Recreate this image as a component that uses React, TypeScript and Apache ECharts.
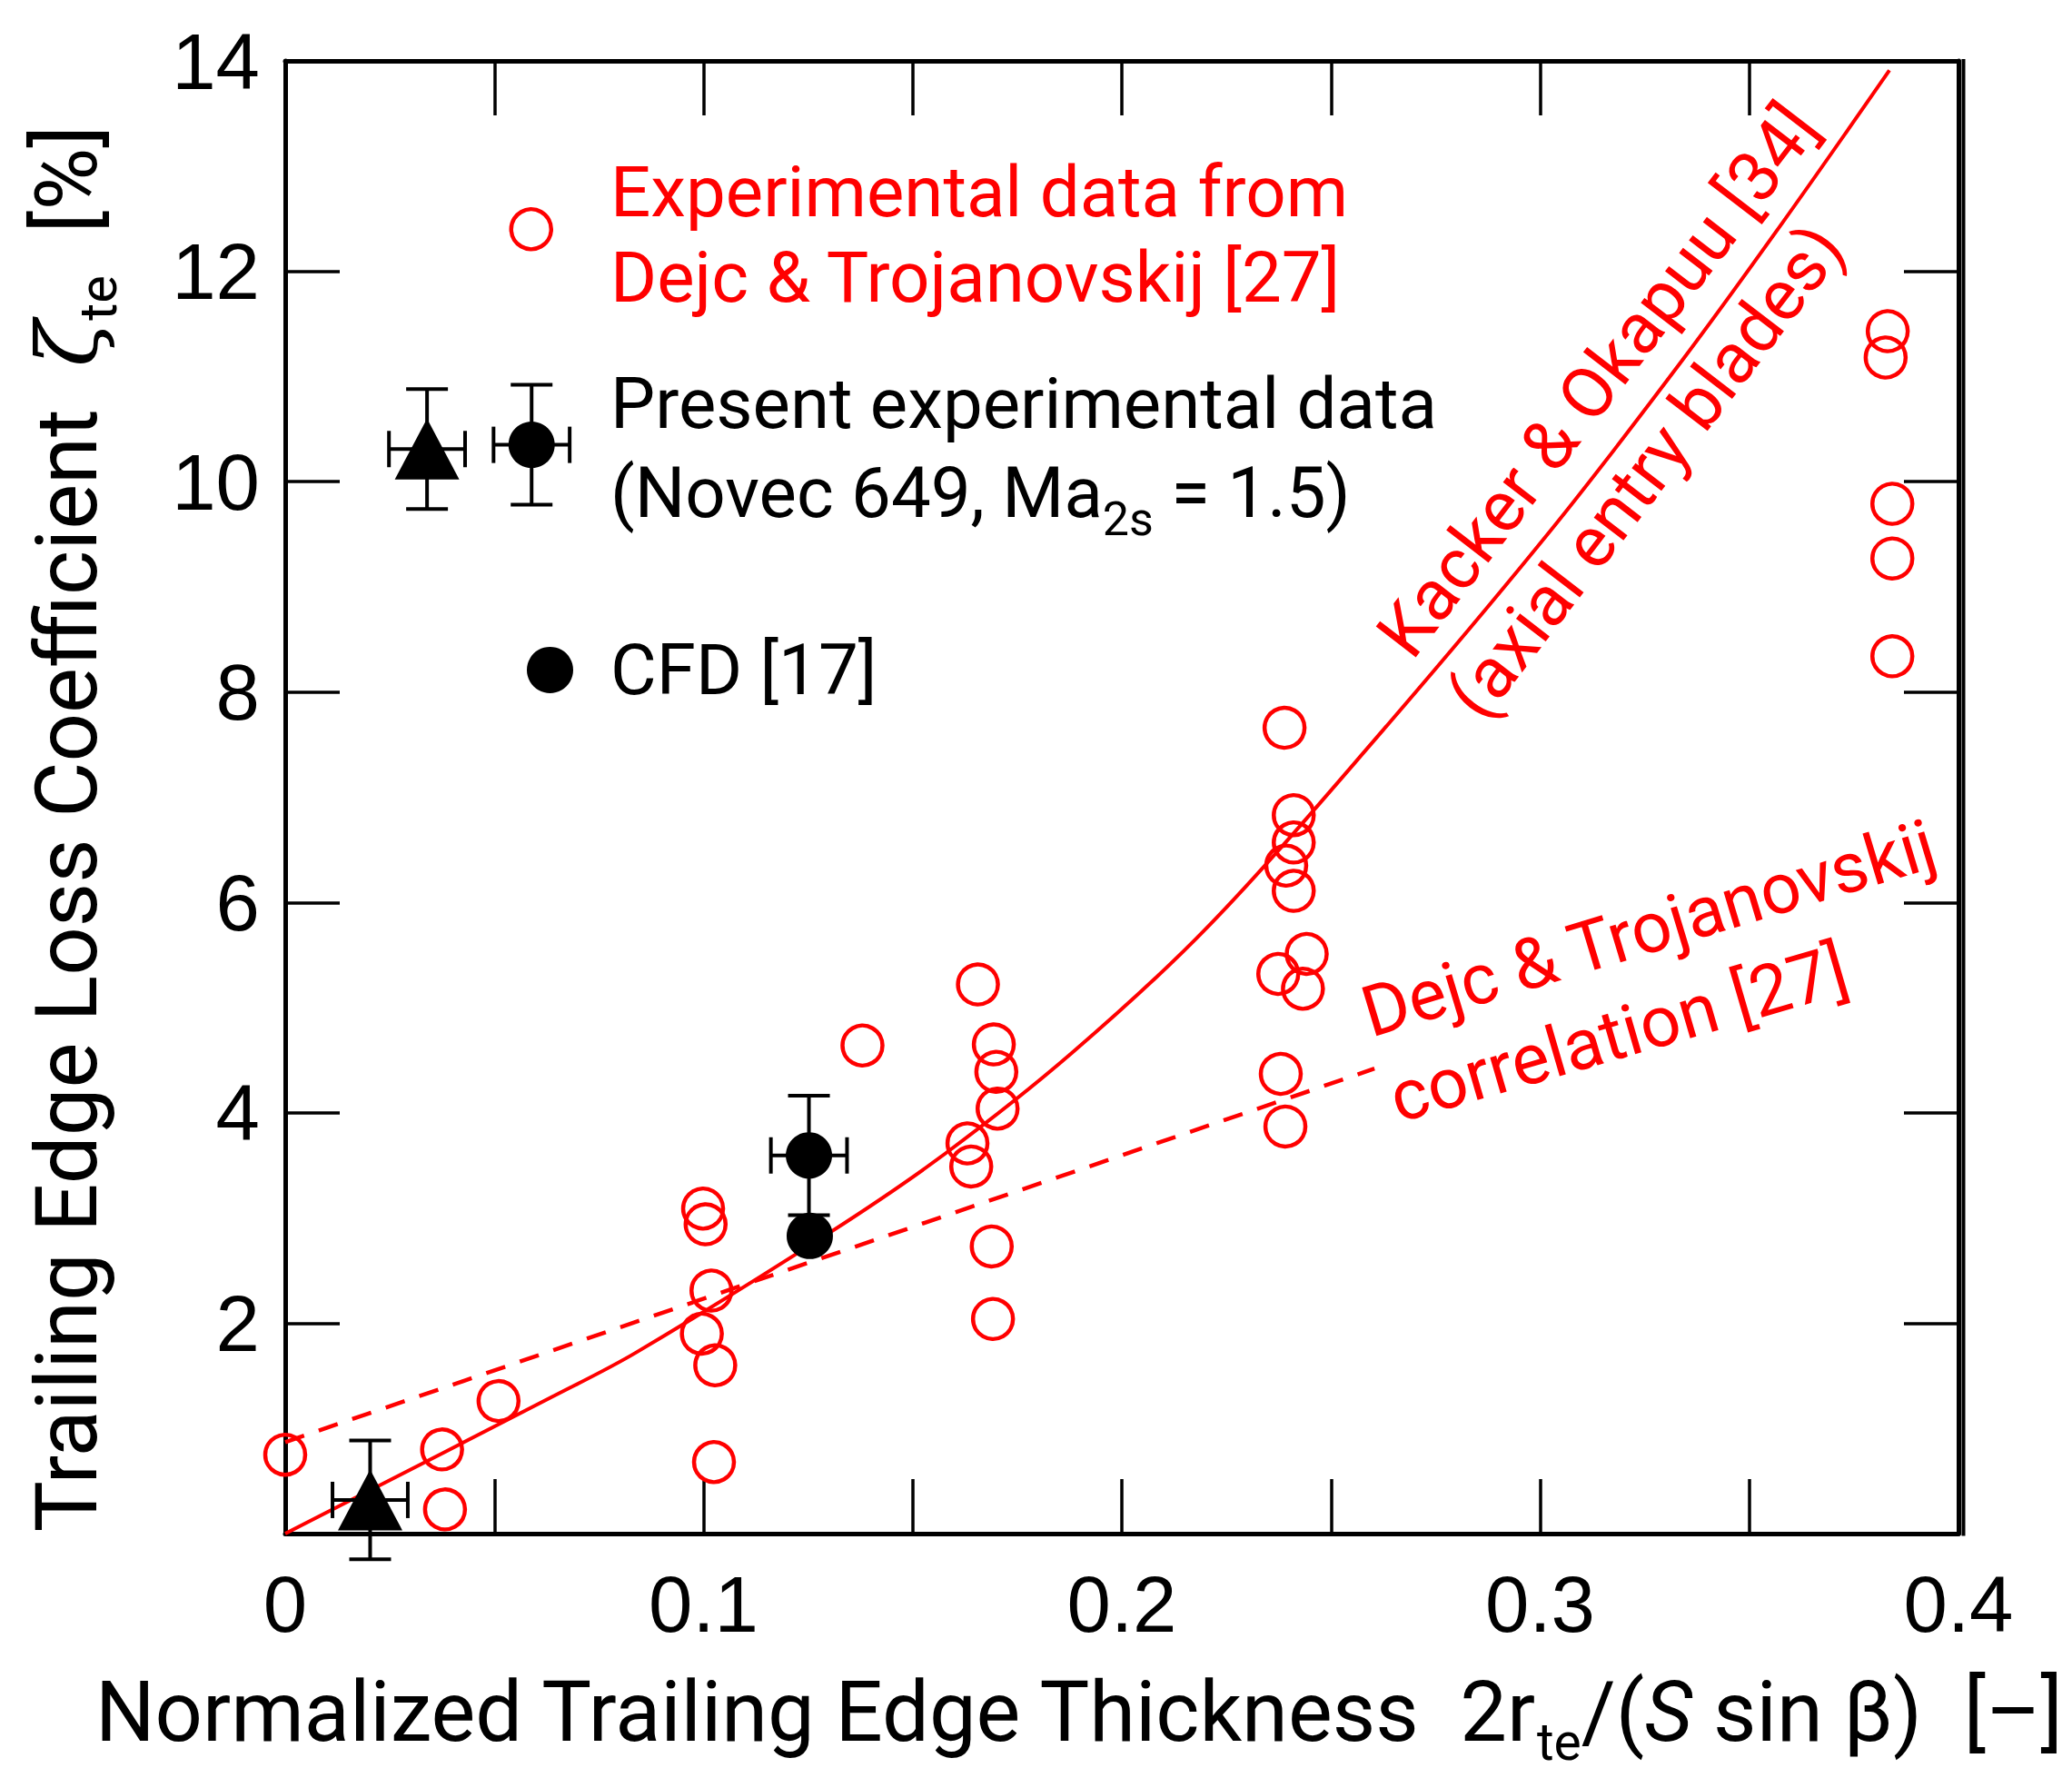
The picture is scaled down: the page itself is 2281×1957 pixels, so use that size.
import React, { useEffect, useRef } from "react";
import * as echarts from "echarts";

const W = 2281;
const H = 1957;

// Experimental data from Dejc & Trojanovskij [27]  [x, zeta_te %]
const dejcPoints: number[][] = [
  [0, 0.75], [0.0375, 0.8], [0.0382, 0.23], [0.051, 1.26],
  [0.0999, 3.09], [0.1005, 2.94], [0.1019, 2.31], [0.0996, 1.9], [0.1028, 1.6], [0.1025, 0.68],
  [0.138, 4.64],
  [0.1656, 5.22], [0.1694, 4.65], [0.17, 4.39], [0.1703, 4.04], [0.1631, 3.71], [0.164, 3.49], [0.1689, 2.73], [0.1692, 2.04],
  [0.2389, 7.66], [0.2411, 6.83], [0.2411, 6.57], [0.2393, 6.35], [0.2411, 6.11], [0.2442, 5.51], [0.2374, 5.32], [0.2433, 5.18], [0.238, 4.37], [0.2391, 3.87],
  [0.3831, 11.43], [0.3826, 11.18], [0.3842, 9.79], [0.3842, 9.27], [0.3842, 8.34],
];

// Present experimental data (Novec 649)  [x, y, xErr, yErr]
const presentTriangle: number[][] = [[0.0203, 0.32, 0.009, 0.565]];
const presentCircle: number[][] = [[0.1252, 3.595, 0.0091, 0.567]];

// CFD [17]
const cfdPoints: number[][] = [[0.1254, 2.83]];

// Kacker & Okapuu [34] correlation
const kackerCurve: number[][] = [
  [0, 0], [0.0643, 1.31], [0.0838, 1.72], [0.1301, 2.86], [0.1577, 3.61], [0.1881, 4.57],
  [0.2206, 5.77], [0.2601, 7.53], [0.3028, 9.55], [0.3339, 11.15], [0.3579, 12.46], [0.3835, 13.91],
];

// Dejc & Trojanovskij correlation [27]
const dejcCorrelation: number[][] = [[0, 0.87], [0.2604, 4.42]];

// Legend keys placed in data space
const legendKeyOpen: number[][] = [[0.0588, 12.4]];
const legendKeyTriangle: number[][] = [[0.0339, 10.31, 0.0091, 0.57]];
const legendKeyCircle: number[][] = [[0.0589, 10.35, 0.0091, 0.57]];
const legendKeyCfd: number[][] = [[0.0633, 8.21]];

const xTicks = [0, 0.4, 0.05];
const yTicks = [0, 14, 2];

const RED = "#ff0000";
const BLACK = "#000000";
const TXT = "Roboto";
const TICKFONT = "Liberation Sans";
const FS = 78;

export default function App() {
  const ref = useRef<HTMLDivElement>(null);

  useEffect(() => {
    document.body.style.margin = "0";
    if (!ref.current) return;
    const chart = echarts.init(ref.current, undefined, { renderer: "svg" });

    const errorBarRender = (params: any, api: any) => {
      const x = api.value(0);
      const y = api.value(1);
      const ex = api.value(2);
      const ey = api.value(3);
      const top = api.coord([x, y + ey]);
      const bot = api.coord([x, y - ey]);
      const l = api.coord([x - ex, y]);
      const r = api.coord([x + ex, y]);
      const st = { stroke: BLACK, lineWidth: 4 };
      const capW = 23;
      const capH = 20;
      return {
        type: "group",
        children: [
          { type: "line", shape: { x1: top[0], y1: top[1], x2: bot[0], y2: bot[1] }, style: st },
          { type: "line", shape: { x1: top[0] - capW, y1: top[1], x2: top[0] + capW, y2: top[1] }, style: st },
          { type: "line", shape: { x1: bot[0] - capW, y1: bot[1], x2: bot[0] + capW, y2: bot[1] }, style: st },
          { type: "line", shape: { x1: l[0], y1: l[1], x2: r[0], y2: r[1] }, style: st },
          { type: "line", shape: { x1: l[0], y1: l[1] - capH, x2: l[0], y2: l[1] + capH }, style: st },
          { type: "line", shape: { x1: r[0], y1: r[1] - capH, x2: r[0], y2: r[1] + capH }, style: st },
        ],
      };
    };

    const axisCommon = {
      type: "value" as const,
      axisLine: { show: true, onZero: false, lineStyle: { color: BLACK, width: 5 } },
      axisTick: { show: true, inside: true, length: 60, lineStyle: { color: BLACK, width: 3.5 } },
      splitLine: { show: false },
    };

    const openCircleStyle = { color: "rgba(0,0,0,0)", borderColor: RED, borderWidth: 4.5, opacity: 1 };

    const annot = (text: string, x: number, y: number, rotDeg: number) => ({
      type: "text",
      x,
      y,
      rotation: (rotDeg * Math.PI) / 180,
      style: { text, fill: RED, font: `${FS}px ${TXT}`, align: "center", verticalAlign: "middle" },
    });
    const leftText = (text: string, x: number, y: number, fill: string) => ({
      type: "text",
      x,
      y,
      style: { text, fill, font: `${FS}px ${TXT}`, align: "left", verticalAlign: "middle" },
    });

    chart.setOption({
      animation: false,
      backgroundColor: "#ffffff",
      grid: { left: 314, right: W - 2156, top: 67, bottom: H - 1688, containLabel: false },
      xAxis: [
        {
          ...axisCommon,
          min: xTicks[0],
          max: xTicks[1],
          interval: xTicks[2],
          position: "bottom",
          axisLabel: {
            show: true,
            margin: 34,
            color: BLACK,
            fontFamily: TICKFONT,
            fontSize: 87,
            formatter: (v: number) => {
              const r = Math.round(v * 100);
              if (r % 10 !== 0) return "";
              return r === 0 ? "0" : String(r / 100);
            },
          },
        },
        {
          ...axisCommon,
          min: xTicks[0],
          max: xTicks[1],
          interval: xTicks[2],
          position: "top",
          axisLabel: { show: false },
        },
      ],
      yAxis: [
        {
          ...axisCommon,
          min: yTicks[0],
          max: yTicks[1],
          interval: yTicks[2],
          position: "left",
          axisLabel: {
            show: true,
            margin: 28,
            color: BLACK,
            fontFamily: TICKFONT,
            fontSize: 87,
            formatter: (v: number) => (v === 0 ? "" : String(v)),
          },
        },
        {
          ...axisCommon,
          min: yTicks[0],
          max: yTicks[1],
          interval: yTicks[2],
          position: "right",
          axisLabel: { show: false },
        },
      ],
      series: [
        {
          type: "scatter",
          name: "Dejc & Trojanovskij data",
          data: dejcPoints,
          symbol: "circle",
          symbolSize: 44,
          itemStyle: openCircleStyle,
          clip: false,
          z: 2,
        },
        {
          type: "scatter",
          name: "legend open",
          data: legendKeyOpen,
          symbol: "circle",
          symbolSize: 44,
          itemStyle: openCircleStyle,
          clip: false,
          z: 2,
        },
        {
          type: "line",
          name: "Kacker & Okapuu",
          data: kackerCurve,
          smooth: 0.33,
          showSymbol: false,
          symbol: "none",
          lineStyle: { color: RED, width: 4 },
          clip: false,
          z: 3,
        },
        {
          type: "line",
          name: "Dejc correlation",
          data: dejcCorrelation,
          showSymbol: false,
          symbol: "none",
          lineStyle: { color: RED, width: 4.5, type: [22, 17] },
          z: 3,
        },
        {
          type: "custom",
          name: "error bars",
          data: [...presentTriangle, ...presentCircle, ...legendKeyTriangle, ...legendKeyCircle],
          renderItem: errorBarRender,
          clip: false,
          z: 4,
        },
        {
          type: "scatter",
          name: "present triangle",
          data: [...presentTriangle, ...legendKeyTriangle].map((d) => [d[0], d[1]]),
          symbol: "triangle",
          symbolSize: [71, 67],
          itemStyle: { color: BLACK, opacity: 1 },
          clip: false,
          z: 5,
        },
        {
          type: "scatter",
          name: "present circle and CFD",
          data: [...presentCircle, ...legendKeyCircle, ...cfdPoints, ...legendKeyCfd].map((d) => [d[0], d[1]]),
          symbol: "circle",
          symbolSize: 51,
          itemStyle: { color: BLACK, opacity: 1 },
          clip: false,
          z: 5,
        },
      ],
      graphic: [
        {
          type: "line",
          shape: { x1: 2161.5, y1: 65, x2: 2161.5, y2: 1690.5 },
          style: { stroke: BLACK, lineWidth: 4 },
        },
        leftText("Experimental data from", 672, 211, RED),
        leftText("Dejc & Trojanovskij [27]", 672, 305, RED),
        leftText("Present experimental data", 672, 444, BLACK),
        {
          type: "text",
          x: 672,
          y: 542,
          style: {
            text: "{a|(Novec 649, Ma}{s|2s}{a| = 1.5)}",
            align: "left",
            verticalAlign: "middle",
            rich: {
              a: { fontFamily: TXT, fontSize: FS, lineHeight: 110, fill: BLACK, color: BLACK },
              s: { fontFamily: TXT, fontSize: 52, lineHeight: 52, fill: BLACK, color: BLACK, verticalAlign: "bottom" },
            },
          },
        },
        leftText("CFD [17]", 672, 737, BLACK),
        annot("Kacker & Okapuu [34]", 1759, 419, 52.5),
        annot("(axial entry blades)", 1812, 519, 52.5),
        annot("Dejc & Trojanovskij", 1815, 1022, 16.8),
        annot("correlation [27]", 1782, 1138, 16.2),
        {
          type: "text",
          x: 1187,
          y: 1884,
          style: {
            text: "{a|Normalized Trailing Edge Thickness  2r}{s|te}{a|/(}{i|S}{a| sin β)  [–]}",
            align: "center",
            verticalAlign: "middle",
            rich: {
              a: { fontFamily: TXT, fontSize: 92, lineHeight: 124, fill: BLACK, color: BLACK },
              i: { fontFamily: TXT, fontSize: 92, lineHeight: 124, fontStyle: "italic", fill: BLACK, color: BLACK },
              s: { fontFamily: TXT, fontSize: 57, lineHeight: 57, fill: BLACK, color: BLACK, verticalAlign: "bottom" },
            },
          },
        },
        {
          type: "text",
          x: 74,
          y: 912,
          rotation: Math.PI / 2,
          style: {
            text: "{a|Trailing Edge Loss Coefficient  }{z|ζ}{s|te}{a|  [%]}",
            align: "center",
            verticalAlign: "middle",
            rich: {
              a: { fontFamily: TXT, fontSize: 94, lineHeight: 126, fill: BLACK, color: BLACK },
              z: { fontFamily: "DejaVu Serif", fontSize: 94, lineHeight: 126, fontStyle: "italic", fill: BLACK, color: BLACK },
              s: { fontFamily: TXT, fontSize: 58, lineHeight: 58, fill: BLACK, color: BLACK, verticalAlign: "bottom" },
            },
          },
        },
      ],
    });

    return () => {
      chart.dispose();
    };
  }, []);

  return <div ref={ref} style={{ width: W, height: H }} />;
}
